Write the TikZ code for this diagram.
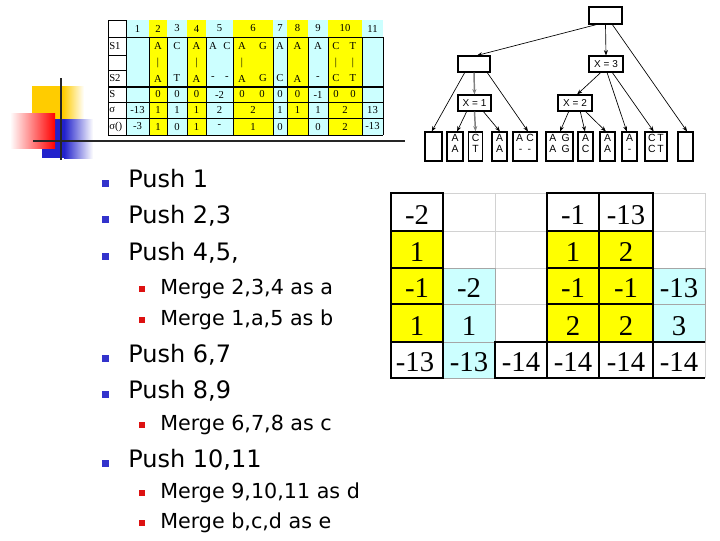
\documentclass[tikz,border=0pt]{standalone}
\usepackage{fontspec}
\setmainfont{DejaVu Sans}
\newfontfamily\tim{Liberation Serif}
\newfontfamily\hel{Liberation Sans}
\usetikzlibrary{arrows.meta,calc}
\definecolor{cy}{HTML}{CCFFFF}
\definecolor{yl}{HTML}{FFFF00}
\definecolor{gd}{HTML}{FFCC00}
\definecolor{bb}{HTML}{3333CC}
\definecolor{db}{HTML}{2222CC}
\definecolor{rb}{HTML}{DD1111}
\begin{document}
\begin{tikzpicture}[x=0.75pt,y=-0.75pt,
  tl/.style={line width=0.6pt},
  tc/.style={font=\tim\fontsize{8}{9}\selectfont, inner sep=0},
  tlab/.style={font=\tim\fontsize{8}{9}\selectfont, inner sep=0, anchor=west},
  bx/.style={draw, line width=0.8pt, inner sep=0, fill=white},
  wh/.style 2 args={minimum width=#1*0.75pt, minimum height=#2*0.75pt},
  tf/.style={font=\hel\fontsize{7.5}{8}\selectfont},
  ar/.style={-{Stealth[length=4pt,width=3pt]}, line width=0.5pt},
  gar/.style={-{Stealth[length=4pt,width=3pt]}, line width=1.1pt, gray},
  lf/.style={font=\hel\fontsize{7.8}{8.4}\selectfont, inner sep=0, align=center},
  big/.style={font=\tim\fontsize{21.5}{24}\selectfont, inner sep=0, anchor=base},
  mt/.style={font=\fontsize{18}{20}\selectfont, inner sep=0, anchor=base west},
  st/.style={font=\fontsize{15.5}{18}\selectfont, inner sep=0, anchor=base west},
  bk/.style={line width=0.8pt, black},
  gl/.style={line width=0.6pt, gray!35},
  gc/.style={line width=0.6pt, gray!70},
]
\useasboundingbox (0,0) rectangle (720,540);

% ---------- decoration ----------
\fill[gd] (32,86) rectangle (63,132);
\shade[left color=gd, right color=white] (63,86) rectangle (84,132);
\fill[db] (42,119) rectangle (64,158);
\shade[left color=db, right color=white] (64,119) rectangle (93,158);
\shade[left color=white, right color=red] (10,113) rectangle (55,148);
\draw[line width=1.5pt, black!85] (61,78) -- (61,160);
\draw[line width=1.5pt, black!85] (33,141) -- (405,141);

% ---------- top-left table ----------
\fill[cy] (126,20) rectangle (383,135);
\foreach \a/\b in {149/167,187/206,233/273,287/308,328/362}
  \fill[yl] (\a,20) rectangle (\b,135);
\draw[tl] (108,20) rectangle (126,135);
\foreach \y in {55,70} \draw[tl] (108,\y) -- (126,\y);
\draw[tl] (108,37) -- (383,37);
\draw[line width=1.3pt] (108,87) -- (383,87);
\foreach \y in {102,118,135} \draw[tl] (108,\y) -- (383,\y);
\foreach \x in {149,167,187,206,233,273,287,308,328,362,383} \draw[tl] (\x,37) -- (\x,135);

% header
\foreach \x/\t [count=\i] in {137.5/1,158/2,177/3,196.5/4,219.5/5,253/6,280/7,297.5/8,318/9,345/10,372.5/11}
  \node[tc] (h\i) at (\x,28.5) {\t};
% labels
\node[tlab] (rS1) at (109,46) {S1};
\node[tlab] (rS2) at (109,78.5) {S2};
\node[tlab] (rS) at (109,94.5) {S};
\node[tlab] (rsg) at (109,110) {σ};
\node[tlab] (rsf) at (109,126.5) {σ()};
% S1 row
\foreach \x/\t [count=\i] in {158/A,177/C,196.5/A,213/A,227/C,242/A,263/G,280/A,297.5/A,318/A,336/C,353/T}
  \node[tc] (a\i) at (\x,46) {\t};
% bar row
\foreach \x [count=\i] in {158,196.5,242,336,353}
  \node[tc] (b\i) at (\x,62.5) {|};
% S2 row
\foreach \x/\t [count=\i] in {158/A,177/T,196.5/A,213/-,227/-,242/A,263/G,280/C,297.5/A,318/-,336/C,353/T}
  \node[tc] (c\i) at (\x,78.5) {\t};
% S row
\foreach \x/\t [count=\i] in {158/0,177/0,196.5/0,219.5/-2,242/0,262/0,280/0,297.5/0,318/-1,336/0,353/0}
  \node[tc] (d\i) at (\x,94.5) {\t};
% sigma row
\foreach \x/\t [count=\i] in {137.5/-13,158/1,177/1,196.5/1,219.5/2,253/2,280/1,297.5/1,318/1,345/2,372.5/13}
  \node[tc] (e\i) at (\x,110) {\t};
% sigma() row
\foreach \x/\t [count=\i] in {137.5/-3,158/1,177/0,196.5/1,219.5/-,253/1,280/0,318/0,345/2,372.5/-13}
  \node[tc] (f\i) at (\x,126.5) {\t};

% ---------- tree ----------
\node[bx,wh={33}{17}] (root) at (605.5,15.5) {};
\node[bx,wh={32}{16}] (L) at (474,64) {};
\node[bx,wh={34}{16},tf] (X3) at (606,64) {X = 3};
\node[bx,wh={33}{16},tf] (X1) at (474.5,103) {X = 1};
\node[bx,wh={34}{16},tf] (X2) at (575,103) {X = 2};
\foreach \n/\x/\w in {l1/433.5/17,l2/455/16,l3/475.5/14,l4/499.5/15,l5/525/24,l6/559.5/27,l7/585.5/15,l8/607.5/15,l9/629.5/15,l10/656/22,l11/685.5/15}
  \node[bx,wh={\w}{29}] (\n) at (\x,146.5) {};
\node[lf] (t2) at (l2) [yshift=2.2pt] {A\\A};
\node[lf] (t3) at (l3) [yshift=2.2pt] {C\\T};
\node[lf] (t4) at (l4) [yshift=2.2pt] {A\\A};
\node[lf] (t5) at (l5) [yshift=2.2pt] {A\,\,C\\-\,\,\,-};
\node[lf] (t6) at (l6) [yshift=2.2pt] {A\,\,\,G\\A\,\,\,G};
\node[lf] (t7) at (l7) [yshift=2.2pt] {A\\C};
\node[lf] (t8) at (l8) [yshift=2.2pt] {A\\A};
\node[lf] (t9) at (l9) [yshift=2.2pt] {A\\-};
\node[lf] (t10) at (l10) [yshift=2.2pt] {C\,T\\C\,T};

\draw[ar] ($(root.south west)!.24!(root.south east)$) -- ($(L.north west)!.59!(L.north east)$);
\draw[ar] (root.south) -- (X3.north);
\draw[ar] ($(root.south west)!.7!(root.south east)$) -- ($(l11.north west)!.6!(l11.north east)$);
\draw[ar] ($(L.south west)!.22!(L.south east)$) -- ($(l1.north west)!.4!(l1.north east)$);
\draw[gar] (L.south) -- (X1.north);
\draw[ar] ($(L.south west)!.9!(L.south east)$) -- ($(l5.north west)!.62!(l5.north east)$);
\draw[ar] ($(X3.south west)!.35!(X3.south east)$) -- ($(X2.north west)!.56!(X2.north east)$);
\draw[ar] ($(X3.south west)!.53!(X3.south east)$) -- ($(l9.north west)!.33!(l9.north east)$);
\draw[ar] ($(X3.south west)!.68!(X3.south east)$) -- ($(l10.north west)!.4!(l10.north east)$);
\draw[ar] ($(X1.south west)!.27!(X1.south east)$) -- ($(l2.north west)!.62!(l2.north east)$);
\draw[gar] (X1.south) -- (l3.north);
\draw[ar] ($(X1.south west)!.76!(X1.south east)$) -- ($(l4.north west)!.53!(l4.north east)$);
\draw[ar] ($(X2.south west)!.32!(X2.south east)$) -- ($(l6.north west)!.52!(l6.north east)$);
\draw[ar] ($(X2.south west)!.65!(X2.south east)$) -- ($(l7.north west)!.47!(l7.north east)$);
\draw[ar] ($(X2.south west)!.8!(X2.south east)$) -- ($(l8.north west)!.4!(l8.north east)$);

% ---------- right grid ----------
\fill[yl] (391,231) rectangle (443,342);
\fill[yl] (547,231) rectangle (653,342);
\fill[cy] (443,268) rectangle (495,378);
\fill[cy] (653,268) rectangle (705,342);
\foreach \x in {391,443,495,547,599,653,705} \draw[gl] (\x,193) -- (\x,378);
\foreach \y in {193,231,268,304,342,378} \draw[gl] (391,\y) -- (705,\y);
\draw[gc] (443,268) rectangle (495,378);
\draw[gc] (443,304) -- (495,304) (443,342) -- (495,342);
\draw[gc] (653,268) rectangle (705,342);
\draw[gc] (653,304) -- (705,304);
\foreach \y/\z in {193/231,231/268,268/304,304/342,342/378} {
  \draw[bk] (391,\y) rectangle (443,\z);
  \draw[bk] (547,\y) rectangle (599,\z);
  \draw[bk] (599,\y) rectangle (653,\z);
}
\draw[bk] (495,342) rectangle (547,378);
\draw[bk] (653,342) -- (705,342) (653,378) -- (705,378);

\node[big] (g11) at (417,224.5) {-2};
\node[big] (g14) at (573,224.5) {-1};
\node[big] (g15) at (626,224.5) {-13};
\node[big] (g21) at (417,261.5) {1};
\node[big] (g24) at (573,261.5) {1};
\node[big] (g25) at (626,261.5) {2};
\node[big] (g31) at (417,297.5) {-1};
\node[big] (g32) at (469,297.5) {-2};
\node[big] (g34) at (573,297.5) {-1};
\node[big] (g35) at (626,297.5) {-1};
\node[big] (g36) at (679,297.5) {-13};
\node[big] (g41) at (417,335.5) {1};
\node[big] (g42) at (469,335.5) {1};
\node[big] (g44) at (573,335.5) {2};
\node[big] (g45) at (626,335.5) {2};
\node[big] (g46) at (679,335.5) {3};
\node[big] (g51) at (415,371.5) {-13};
\node[big] (g52) at (469,371.5) {-13};
\node[big] (g53) at (521,371.5) {-14};
\node[big] (g54) at (573,371.5) {-14};
\node[big] (g55) at (626,371.5) {-14};
\node[big] (g56) at (679,371.5) {-14};

% ---------- bullets ----------
\foreach \b/\t [count=\i] in {187/{Push 1},223/{Push 2,3},260/{Push 4,5,},362/{Push 6,7},398/{Push 8,9},467/{Push 10,11}} {
  \fill[bb] (102,\b-7) rectangle (109,\b);
  \node[mt] (m\i) at (128,\b) {\t};
}
\foreach \b/\t [count=\i] in {294/{Merge 2,3,4 as a},325/{Merge 1,a,5 as b},430/{Merge 6,7,8 as c},498/{Merge 9,10,11 as d},528/{Merge b,c,d as e}} {
  \fill[rb] (138.5,\b-8.5) rectangle (145,\b-2);
  \node[st] (s\i) at (160,\b) {\t};
}
\end{tikzpicture}
\end{document}
